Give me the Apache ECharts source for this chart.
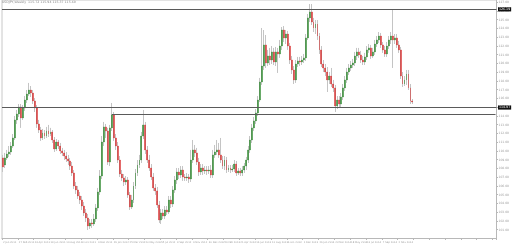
<!DOCTYPE html>
<html><head><meta charset="utf-8">
<script src="https://cdn.jsdelivr.net/npm/echarts@6/dist/echarts.min.js"></script>
<style>html,body{margin:0;padding:0;background:#fff}#c{width:512px;height:245px}</style>
</head><body><div id="c"></div>
<script>
var titleText = 'USDJPY,Weekly  115.72 115.94 115.37 115.60';
var xTickLabels = ['2 Jan 2011','27 Feb 2011','24 Apr 2011','19 Jun 2011','14 Aug 2011','9 Oct 2011','4 Dec 2011','29 Jan 2012','25 Mar 2012','20 May 2012','15 Jul 2012','9 Sep 2012','4 Nov 2012','30 Dec 2012','24 Feb 2013','21 Apr 2013','16 Jun 2013','11 Aug 2013','6 Oct 2013','1 Dec 2013','26 Jan 2014','23 Mar 2014','18 May 2014','13 Jul 2014','7 Sep 2014','2 Nov 2014'];
var opens = [109.21,108.40,109.21,109.66,109.89,110.57,111.49,113.55,114.23,115.03,
113.78,114.92,115.83,116.51,116.97,116.63,115.72,114.92,113.09,112.40,
111.49,112.06,111.71,112.29,111.94,112.17,111.26,110.23,111.03,110.57,
110.01,109.78,109.43,109.09,108.86,108.28,107.49,106.00,105.55,104.86,
104.40,103.71,102.92,102.35,101.43,101.78,101.66,102.23,103.49,105.32,
107.14,111.03,112.75,112.29,108.74,112.64,114.12,111.49,110.57,108.97,
107.37,106.92,106.46,106.69,104.98,103.60,104.40,106.00,107.49,108.40,
108.97,111.71,112.98,110.12,108.97,108.06,107.03,105.78,105.44,103.83,
102.12,102.92,102.57,103.26,103.03,104.40,103.94,105.55,106.69,107.60,
107.26,107.83,107.03,106.92,107.03,106.80,108.97,110.12,109.78,108.74,
107.60,108.06,107.72,107.83,107.72,107.83,107.26,109.55,109.89,110.12,
109.55,108.97,108.28,108.97,107.83,108.06,107.83,107.94,108.51,107.49,
107.72,107.49,107.83,108.28,108.97,110.12,111.26,112.64,113.44,114.35,
115.83,117.89,119.71,122.12,120.06,120.86,120.40,121.32,120.17,121.32,
121.09,122.00,123.83,122.92,123.37,122.00,120.40,119.26,118.12,119.94,
120.29,120.17,120.40,120.64,122.92,125.21,125.89,124.74,124.06,124.51,
123.14,121.55,119.94,119.49,119.03,118.12,118.57,117.66,117.21,115.14,
115.83,115.37,116.17,117.21,118.12,119.03,119.49,119.83,120.06,120.86,
121.32,120.98,120.40,120.17,120.75,121.55,121.78,120.86,121.32,122.23,
122.69,123.14,122.12,121.55,121.09,122.00,122.69,123.14,122.69,122.92,
122.12,121.55,118.57,117.66,118.12,118.80,117.21,115.72];
var closes = [108.17,109.21,109.66,109.89,110.57,111.49,113.55,114.23,115.03,113.78,
114.92,115.83,116.51,116.97,116.63,115.72,114.92,113.09,112.40,111.49,
112.06,111.71,112.29,111.94,112.17,111.26,110.23,111.03,110.57,110.01,
109.78,109.43,109.09,108.86,108.28,107.49,106.00,105.55,104.86,104.40,
103.71,102.92,102.35,101.43,101.78,101.66,102.23,103.49,105.32,107.14,
111.03,112.75,112.29,108.74,112.64,114.12,111.49,110.57,108.97,107.37,
106.92,106.46,106.69,104.98,103.60,104.40,106.00,107.49,108.40,108.97,
111.71,112.98,110.12,108.97,108.06,107.03,105.78,105.44,103.83,102.12,
102.92,102.57,103.26,103.03,104.40,103.94,105.55,106.69,107.60,107.26,
107.83,107.03,106.92,107.03,106.80,108.97,110.12,109.78,108.74,107.60,
108.06,107.72,107.83,107.72,107.83,107.26,109.55,109.89,110.12,109.55,
108.97,108.28,108.97,107.83,108.06,107.83,107.94,108.51,107.49,107.72,
107.49,107.83,108.28,108.97,110.12,111.26,112.64,113.44,114.35,115.83,
117.89,119.71,122.12,120.06,120.86,120.40,121.32,120.17,121.32,121.09,
122.00,123.83,122.92,123.37,122.00,120.40,119.26,118.12,119.94,120.29,
120.17,120.40,120.64,122.92,125.21,125.89,124.74,124.06,124.51,123.14,
121.55,119.94,119.49,119.03,118.12,118.57,117.66,117.21,115.14,115.83,
115.37,116.17,117.21,118.12,119.03,119.49,119.83,120.06,120.86,121.32,
120.98,120.40,120.17,120.75,121.55,121.78,120.86,121.32,122.23,122.69,
123.14,122.12,121.55,121.09,122.00,122.69,123.14,122.69,122.92,122.12,
121.55,118.57,117.66,118.12,118.80,117.21,115.72,115.60];
var highs = [109.55,109.78,110.12,110.57,111.03,111.94,114.00,114.69,115.37,115.37,
115.26,116.28,116.97,117.78,117.43,116.97,116.06,115.26,113.55,112.75,
112.52,112.40,112.75,112.98,112.64,112.40,111.60,111.37,111.26,110.92,
110.35,110.12,109.89,109.55,109.21,108.74,107.83,106.46,106.00,105.32,
104.86,104.17,103.37,102.80,102.23,102.23,102.80,103.94,105.78,107.83,
111.71,113.32,113.09,112.64,112.98,115.49,114.46,111.94,111.03,109.43,
107.83,107.37,107.14,107.03,105.32,104.98,106.46,107.94,108.97,109.55,
112.17,114.69,113.32,110.57,109.55,108.51,107.49,106.23,105.89,104.29,
103.37,103.37,103.71,103.71,104.86,104.86,106.00,107.14,108.06,108.06,
108.28,108.28,107.37,107.49,107.37,110.12,111.26,110.69,110.35,109.21,
108.51,108.51,108.28,108.28,108.28,108.40,110.12,110.69,111.26,110.92,
111.49,109.43,109.43,109.32,108.40,108.40,108.40,108.97,108.86,108.06,
108.06,108.28,108.63,109.32,110.57,111.71,113.09,113.89,114.80,116.28,
118.35,124.06,123.83,123.26,121.55,121.78,122.00,121.78,121.89,121.78,
122.69,124.17,124.28,123.83,123.72,122.35,120.86,119.71,120.40,120.75,
120.75,120.86,121.09,123.37,125.66,126.80,126.80,125.21,124.97,124.97,
123.49,122.00,120.40,119.94,119.60,119.03,119.49,118.12,117.55,116.28,
116.28,116.63,117.66,118.57,119.49,119.94,120.29,120.52,121.32,121.78,
121.78,121.44,120.86,121.21,122.00,122.23,122.12,121.78,122.69,123.14,
123.60,123.49,122.46,122.00,122.46,123.14,123.60,126.12,123.37,123.37,
122.58,121.89,119.03,118.57,119.26,119.26,117.66,115.94];
var lows = [107.60,108.06,108.97,109.32,109.55,110.35,111.26,113.09,113.89,112.64,
113.55,114.58,115.49,116.28,116.17,115.37,114.46,112.64,112.06,111.15,
111.26,111.37,111.49,111.60,111.71,110.92,109.89,110.01,110.23,109.66,
109.43,108.97,108.74,108.40,107.83,107.14,105.66,105.09,104.52,103.94,
103.26,102.57,101.89,100.97,101.09,101.21,101.43,101.89,103.15,104.98,
106.80,110.57,111.49,108.40,108.28,112.29,111.15,110.12,108.63,107.03,
106.58,106.00,106.12,104.64,103.26,103.37,104.06,105.66,107.14,108.06,
108.63,111.37,109.66,108.63,107.72,106.69,105.44,104.98,103.49,101.78,
101.66,102.23,102.23,102.69,102.80,103.49,103.60,105.21,106.23,106.80,
106.92,106.58,106.58,106.58,106.35,106.46,108.63,109.32,108.40,107.14,
107.26,107.26,107.37,107.26,107.37,106.92,106.92,109.21,109.55,109.21,
108.63,107.94,107.83,107.49,107.60,107.49,107.60,107.60,107.14,107.26,
107.14,107.14,107.49,107.83,108.63,109.78,110.92,112.29,113.09,114.00,
115.60,117.55,119.26,119.49,119.71,119.83,119.94,119.83,119.71,118.92,
120.64,121.55,122.46,122.23,121.55,119.94,118.80,117.66,117.78,119.60,
119.71,119.83,120.06,120.29,122.69,124.74,124.40,123.60,123.37,122.69,
121.09,119.60,119.03,118.57,116.74,117.66,117.32,116.74,114.46,114.80,
114.92,115.03,115.83,116.86,117.78,118.69,119.15,119.49,119.71,120.40,
120.64,120.06,119.83,119.83,120.40,121.21,120.52,120.64,120.98,121.89,
122.35,121.78,121.21,120.75,120.75,121.66,122.23,119.49,122.23,121.78,
121.21,118.23,117.32,117.43,117.55,116.97,115.37,115.37];
var levels = [126.19, 114.97];
var rayLevel = 114.21, rayStartIndex = 55;
var slotCount = 250;

var categories = [];
for (var i = 0; i < slotCount; i++) categories.push(String(i));
var wickData = opens.map(function (o, i) { return [o, closes[i], lows[i], highs[i]]; });
var bodyData = opens.map(function (o, i) { return [o, closes[i], Math.min(o, closes[i]), Math.max(o, closes[i])]; });

var chart = echarts.init(document.getElementById('c'), null, {renderer: 'canvas'});
var lineLabel = {
  show: true, position: 'end', distance: 1.5,
  formatter: function (p) { return Number(p.value).toFixed(2); },
  color: '#fff', backgroundColor: '#111', fontSize: 3.2, padding: [0.6, 1], fontFamily: 'DejaVu Sans'
};
chart.setOption({
  animation: false,
  backgroundColor: '#ffffff',
  graphic: [{type: 'text', left: 2, top: 1, style: {text: titleText, fontSize: 3.2, fill: '#8a8a8a', fontFamily: 'DejaVu Sans'}}],
  grid: {left: 0, right: 12, top: 0, bottom: 6.5, show: true, borderColor: '#c8c8c8', borderWidth: 1},
  xAxis: {
    type: 'category', data: categories, boundaryGap: true,
    axisLine: {show: true, lineStyle: {color: '#b8b8b8', width: 1}},
    axisTick: {show: true, interval: 7, length: 1.5, lineStyle: {color: '#b8b8b8'}},
    axisLabel: {
      interval: 7, fontSize: 2.5, color: '#a0a0a0', align: 'left', margin: 2, fontFamily: 'DejaVu Sans',
      formatter: function (v, idx) { return xTickLabels[idx / 8] || ''; }
    },
    splitLine: {show: false}
  },
  yAxis: {
    type: 'value', position: 'right', min: 100, max: 127.257, interval: 1, scale: true,
    axisLine: {show: true, lineStyle: {color: '#b8b8b8', width: 1}},
    axisTick: {show: true, length: 1.5, lineStyle: {color: '#b8b8b8'}},
    axisLabel: {
      fontSize: 3, color: '#a0a0a0', margin: 2, showMinLabel: false, showMaxLabel: false, fontFamily: 'DejaVu Sans',
      formatter: function (v) { return v.toFixed(2); }
    },
    splitLine: {show: false}
  },
  series: [
    {
      name: 'wick', type: 'candlestick', data: wickData, barWidth: 1,
      itemStyle: {color: '#c4c4c4', color0: '#c4c4c4', borderColor: '#c4c4c4', borderColor0: '#c4c4c4', borderWidth: 1},
      z: 2
    },
    {
      name: 'body', type: 'candlestick', data: bodyData, barWidth: 1.4,
      itemStyle: {color: '#177d17', color0: '#d61a1a', borderColor: '#177d17', borderColor0: '#d61a1a', borderWidth: 0.3},
      z: 3,
      markLine: {
        silent: true, symbol: 'none', animation: false,
        lineStyle: {color: '#5a5a5a', width: 1.1, type: 'solid'},
        label: lineLabel,
        data: [
          {yAxis: levels[0]},
          {yAxis: levels[1]},
          [{coord: [rayStartIndex, rayLevel], label: {show: false}}, {coord: [slotCount - 1, rayLevel]}]
        ]
      }
    }
  ]
});
</script></body></html>
